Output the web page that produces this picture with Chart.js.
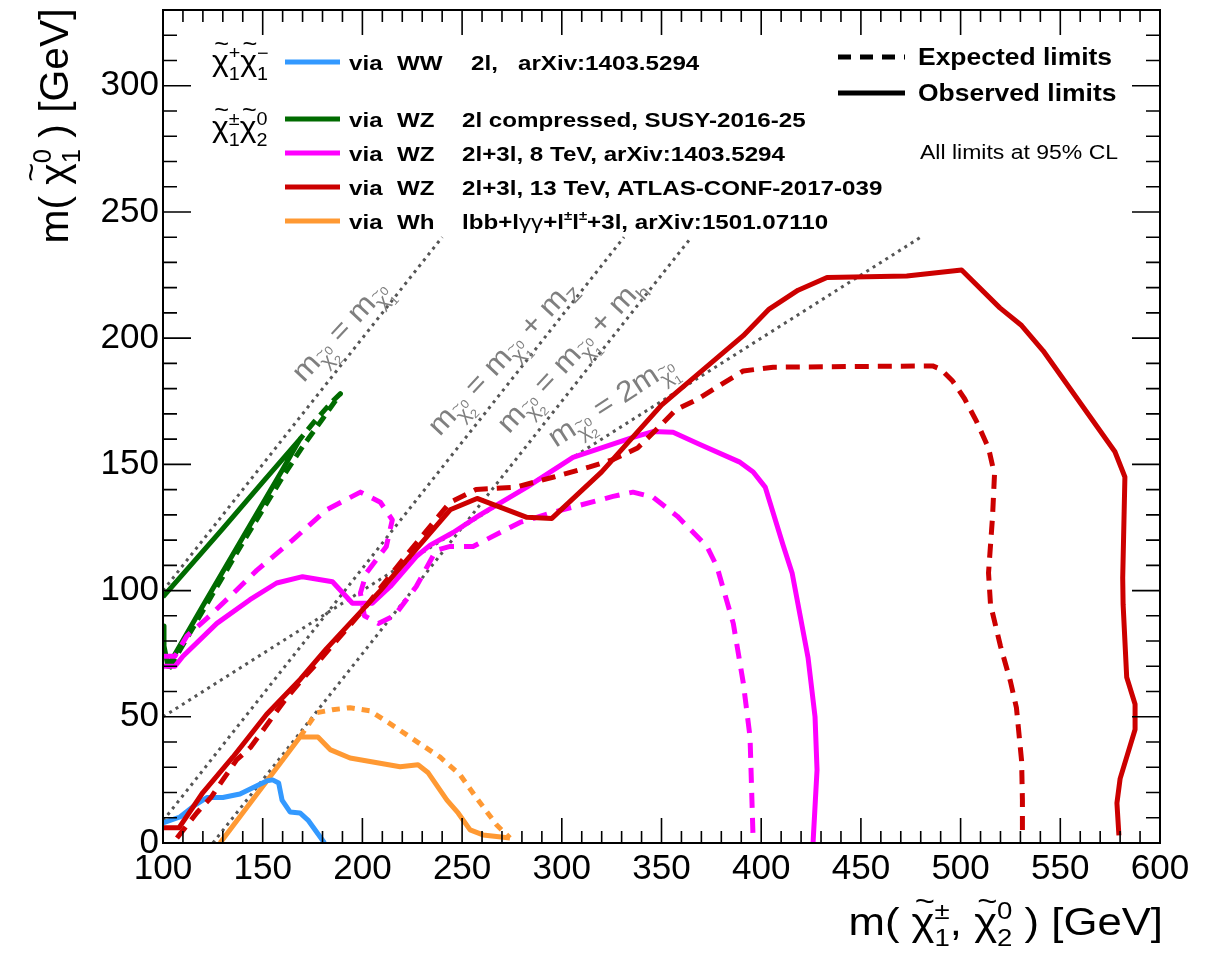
<!DOCTYPE html>
<html>
<head>
<meta charset="utf-8">
<script src="https://cdn.jsdelivr.net/npm/chart.js@4.4.0/dist/chart.umd.min.js"></script>
<style>
  html, body { margin: 0; padding: 0; background: #fff; }
</style>
</head>
<body>
<canvas id="myChart" width="1209" height="956"></canvas>
<script>
// limit contours, [m(chargino/neutralino2), m(neutralino1)] in GeV
const wwObs = [[100,8],[108.5,10.3],[116,15],[122,18],[130,18],[138.6,19.4],[152,24.6],[155,25],[158,23.8],[159.7,17],[163.7,12.3],[168.7,11.9],[172.7,9.1],[181,0]];

const compObs = [[100,86],[100.5,78],[102.5,70],[120,94],[140,121],[160,148],[168.7,160],[150,143],[130,124.5],[110,106.5],[100,97.5]];
const compExp = [[103,69],[120,92],[140,119],[160,145],[170,157],[180,168],[189,178],[185,175],[176,167],[168.7,160]];

const tev8Obs = [[100,70],[106,70],[110,74],[127,87],[143.6,96.4],[157,103],[170,105.5],[185,103.5],[195,95],[205,95],[214,101.6],[227,113.5],[234,118],[245.5,123],[259,130],[282.5,141],[305.6,152.8],[335.7,160.7],[345.7,163],[355.8,162.7],[369,158],[389,151],[396,147],[402,141],[411,118],[415.5,107],[423.5,73.4],[427,50],[428,29],[426,0]];
const tev8Exp = [[100,74],[106,74],[112,82],[122,89],[134,98],[147,108],[165,120],[182,132],[199,139],[209,135],[215,128],[212,117.5],[202,107],[199,99],[201,90],[208,87],[216,90],[227,101.6],[237,116],[244,117.5],[255.5,117.5],[279,127],[295.6,131],[325.7,137.3],[335.7,139],[345.7,137],[358,129.4],[372.8,117.5],[377.8,109.5],[386,87],[391,63.5],[394.4,42],[396,0]];

const tev13Obs = [[100,6],[108,6],[120,20],[135,34],[152,51],[169,65],[182,77],[209,100],[244,132],[257.5,136.5],[282.5,129],[295,128.6],[320,147],[350,173.5],[391,201],[404,211.5],[418.5,219],[433,224],[473,224.6],[500.5,227],[519.7,212],[530.6,205],[541.4,195],[577.4,155],[582.4,145],[581.3,105],[581.5,94.5],[583.3,65.7],[587.5,55],[587.5,45],[580,25.5],[578.4,15.8],[579.4,3]];
const tev13Exp = [[107,2],[110,5],[117,12],[124,18],[130,25],[137,33],[144,38],[155,50],[162,57.5],[170,65],[177,71],[200,92],[220,112],[244,135],[257,140],[277,141],[296,145],[314,149],[326,152],[338,156.5],[349,165],[357,171.5],[368,175.8],[391,187],[406,188.5],[486,189],[490,187.7],[496,183],[502,176],[508,167],[514,156.5],[517,146],[516,129],[514,107],[515,94.5],[520,78],[525,64],[528,53.6],[530.6,32.5],[531,17],[531,3]];

const whObs = [[128.6,0],[168.7,42],[177.7,42],[183.8,37],[193.8,33.7],[218.9,30.2],[227.9,31],[233,27.8],[242.4,17],[248,11.9],[254,5.2],[260.5,3.2],[274,2]];
const whExp = [[168.7,42],[177,51.6],[185,52.8],[193.8,53.6],[203.8,52.4],[216.3,46],[228.9,39.3],[239,34],[249,27],[258,17],[267.5,7],[274,2]];

// kinematic reference lines
const diagSame = [[100,100],[240,240]];
const diagZ = [[100,8.8],[331.2,240]];
const diagH = [[125,0],[365,240]];
const diagHalf = [[100,50],[480,240]];

const xTicks = [100,150,200,250,300,350,400,450,500,550,600];
const yTicks = [0,50,100,150,200,250,300];

const FONT = '"Liberation Sans", Arial, sans-serif';
const SX = 1.15;

const BLUE = '#3399ff', GREEN = '#006b00', MAGENTA = '#ff00ff', RED = '#cc0000', ORANGE = '#ff9933', GREY = '#555555';

const ctx = document.getElementById('myChart').getContext('2d');

// one dataset per curve
const mk = (label, pts, color, dash, width) => ({
  label: label,
  data: pts.map(p => ({ x: p[0], y: p[1] })),
  borderColor: color,
  backgroundColor: color,
  borderWidth: width || 5,
  borderDash: dash || [],
  borderJoinStyle: 'round',
  pointRadius: 0,
  showLine: true,
  tension: 0,
  fill: false
});

// draws text with sub/superscripts, tilde accents and stretched glyphs
function drawRich(c, parts, x, y, o) {
  o = o || {};
  const sx = o.sx || SX;
  c.save();
  c.translate(x, y);
  if (o.rot) c.rotate(o.rot);
  c.scale(sx, 1);
  let cur = 0, lastStart = 0;
  const items = parts.map(p => {
    const f = p.f || o.f || 20;
    const bold = p.b !== undefined ? p.b : o.b;
    const font = (bold ? 'bold ' : '') + f + 'px ' + FONT;
    c.font = font;
    const w = c.measureText(p.t).width;
    let x0;
    if (p.stack) { x0 = lastStart; cur = Math.max(cur, x0 + w); }
    else { x0 = cur; lastStart = cur; cur += w; }
    return { p: p, f: f, font: font, w: w, x0: x0 };
  });
  const off = o.align === 'center' ? -cur / 2 : o.align === 'right' ? -cur : 0;
  c.fillStyle = o.color || '#000';
  c.textBaseline = 'alphabetic';
  items.forEach(it => {
    const dy = (it.p.dy || 0) + (o.dy || 0);
    c.font = it.font;
    c.textAlign = 'left';
    c.fillText(it.p.t, off + it.x0, dy);
    if (it.p.tilde) {
      c.font = Math.round(it.f * 0.8) + 'px ' + FONT;
      c.textAlign = 'center';
      c.fillText('~', off + it.x0 + it.w / 2 + it.f * 0.04, dy - it.f * 0.64);
    }
  });
  c.restore();
}

const chi = (f, up, down, opt) => {
  const s = Math.round(f * 0.62);
  return [
    Object.assign({ t: 'χ', f: f, tilde: 1 }, opt || {}),
    { t: up, f: s, dy: -f * 0.42 + ((opt && opt.dy) || 0) },
    { t: down, f: s, dy: f * 0.3 + ((opt && opt.dy) || 0), stack: 1 }
  ];
};

const mSub = (i) => [{ t: 'm', f: 29 }].concat(chi(19, '0', String(i), { dy: 8 }));

const diagLabels = [
  { parts: mSub(2).concat([{ t: ' = ', f: 29 }], mSub(1)), x: 188.8, y: 202.8, rot: -47 },
  { parts: mSub(2).concat([{ t: ' = ', f: 29 }], mSub(1), [{ t: ' + m', f: 29 }, { t: 'Z', f: 19, dy: 8 }]), x: 270, y: 192.5, rot: -47 },
  { parts: mSub(2).concat([{ t: ' = ', f: 29 }], mSub(1), [{ t: ' + m', f: 29 }, { t: 'h', f: 19, dy: 8 }]), x: 304.6, y: 193.3, rot: -47 },
  { parts: mSub(2).concat([{ t: ' = 2', f: 29 }], mSub(1)), x: 324.8, y: 175, rot: -33 }
];

const legendRows = [
  { color: BLUE, y: 62, proc: 'WW', desc: [{ t: '2l,   arXiv:1403.5294' }], dx: 471 },
  { color: GREEN, y: 119, proc: 'WZ', desc: [{ t: '2l compressed, SUSY-2016-25' }], dx: 462 },
  { color: MAGENTA, y: 153, proc: 'WZ', desc: [{ t: '2l+3l, 8 TeV, arXiv:1403.5294' }], dx: 462 },
  { color: RED, y: 187, proc: 'WZ', desc: [{ t: '2l+3l, 13 TeV, ATLAS-CONF-2017-039' }], dx: 462 },
  { color: ORANGE, y: 221, proc: 'Wh', desc: [{ t: 'lbb+l' }, { t: 'γγ', b: false }, { t: '+l' }, { t: '±', f: 13, dy: -9 }, { t: 'l' }, { t: '±', f: 13, dy: -9 }, { t: '+3l, arXiv:1501.07110' }], dx: 462 }
];

const decor = {
  id: 'decor',
  afterDatasetsDraw(chart) {
    const c = chart.ctx, a = chart.chartArea, xs = chart.scales.x, ys = chart.scales.y;
    c.save();
    // frame and ROOT style inner ticks
    c.strokeStyle = '#000';
    c.lineWidth = 2;
    c.strokeRect(a.left, a.top, a.right - a.left, a.bottom - a.top);
    c.lineWidth = 1.6;
    c.beginPath();
    for (let v = 100; v <= 600; v += 10) {
      const px = xs.getPixelForValue(v);
      const L = v % 50 === 0 ? 25 : 12;
      c.moveTo(px, a.bottom); c.lineTo(px, a.bottom - L);
      c.moveTo(px, a.top); c.lineTo(px, a.top + L);
    }
    for (let v = 0; v <= 330; v += 10) {
      const py = ys.getPixelForValue(v);
      const L = v % 50 === 0 ? 28 : 14;
      c.moveTo(a.left, py); c.lineTo(a.left + L, py);
      c.moveTo(a.right, py); c.lineTo(a.right - L, py);
    }
    c.stroke();
    c.restore();

    // labels on the dotted lines
    diagLabels.forEach(l => {
      drawRich(c, l.parts, xs.getPixelForValue(l.x), ys.getPixelForValue(l.y),
        { rot: l.rot * Math.PI / 180, align: 'center', color: '#7f7f7f', sx: 1.1, dy: 9 });
    });

    // legend, left block
    drawRich(c, chi(29, '+', '1').concat(chi(29, '−', '1')), 212, 71, { sx: 1.1 });
    drawRich(c, chi(29, '±', '1').concat(chi(29, '0', '2')), 212, 137, { sx: 1.1 });
    legendRows.forEach(r => {
      c.save();
      c.strokeStyle = r.color;
      c.lineWidth = 5;
      c.beginPath();
      c.moveTo(285, r.y); c.lineTo(340, r.y);
      c.stroke();
      c.restore();
      drawRich(c, [{ t: 'via' }], 349, r.y + 7.5, { f: 21, b: true });
      drawRich(c, [{ t: r.proc }], 397, r.y + 7.5, { f: 21, b: true });
      drawRich(c, r.desc, r.dx, r.y + 7.5, { f: 21, b: true });
    });

    // legend, right block
    c.save();
    c.strokeStyle = '#000';
    c.lineWidth = 5;
    c.setLineDash([13, 9]);
    c.beginPath(); c.moveTo(838, 57); c.lineTo(905, 57); c.stroke();
    c.setLineDash([]);
    c.beginPath(); c.moveTo(838, 93); c.lineTo(905, 93); c.stroke();
    c.restore();
    drawRich(c, [{ t: 'Expected limits' }], 918, 65, { f: 23, b: true });
    drawRich(c, [{ t: 'Observed limits' }], 918, 101, { f: 23, b: true });
    drawRich(c, [{ t: 'All limits at 95% CL' }], 920, 159, { f: 20 });

    // axis titles
    drawRich(c, [{ t: 'm( ', f: 38 }].concat(chi(38, '±', '1'), [{ t: ', ', f: 38 }], chi(38, '0', '2'), [{ t: ' ) [GeV]', f: 38 }]),
      1163, 935, { align: 'right' });
    drawRich(c, [{ t: 'm( ', f: 40 }].concat(chi(40, '0', '1'), [{ t: ' ) [GeV]', f: 40 }]),
      68, 126, { align: 'center', rot: -Math.PI / 2, sx: 1.02 });
  }
};

const myChart = new Chart(ctx, {
  type: 'scatter',
  data: {
    datasets: [
      mk('13 TeV obs', tev13Obs, RED),
      mk('13 TeV exp', tev13Exp, RED, [14, 9]),
      mk('8 TeV obs', tev8Obs, MAGENTA),
      mk('8 TeV exp', tev8Exp, MAGENTA, [15, 10]),
      mk('compressed obs', compObs, GREEN),
      mk('compressed exp', compExp, GREEN, [12, 7]),
      mk('WW obs', wwObs, BLUE),
      mk('Wh obs', whObs, ORANGE),
      mk('Wh exp', whExp, ORANGE, [8, 7]),
      mk('m = m', diagSame, GREY, [3, 4.5], 3),
      mk('m = m + mZ', diagZ, GREY, [3, 4.5], 3),
      mk('m = m + mh', diagH, GREY, [3, 4.5], 3),
      mk('m = 2m', diagHalf, GREY, [3, 4.5], 3)
    ]
  },
  options: {
    responsive: false,
    animation: false,
    devicePixelRatio: 1,
    layout: { padding: { top: 10, right: 49, left: 0, bottom: 0 } },
    plugins: {
      legend: { display: false },
      tooltip: { enabled: false }
    },
    scales: {
      x: {
        type: 'linear',
        min: 100,
        max: 600,
        grid: { display: false, drawTicks: false },
        border: { display: false },
        afterBuildTicks: (s) => { s.ticks = xTicks.map(v => ({ value: v })); },
        afterFit: (s) => { s.height = 113; s.paddingLeft = 0; s.paddingRight = 0; },
        ticks: { font: { family: FONT, size: 35 }, color: '#000', padding: 5, maxRotation: 0, autoSkip: false }
      },
      y: {
        min: 0,
        max: 330,
        grid: { display: false, drawTicks: false },
        border: { display: false },
        afterBuildTicks: (s) => { s.ticks = yTicks.map(v => ({ value: v })); },
        afterFit: (s) => { s.width = 163; s.paddingTop = 0; s.paddingBottom = 0; },
        ticks: { font: { family: FONT, size: 35 }, color: '#000', padding: 4, autoSkip: false }
      }
    }
  },
  plugins: [decor]
});
</script>
</body>
</html>
